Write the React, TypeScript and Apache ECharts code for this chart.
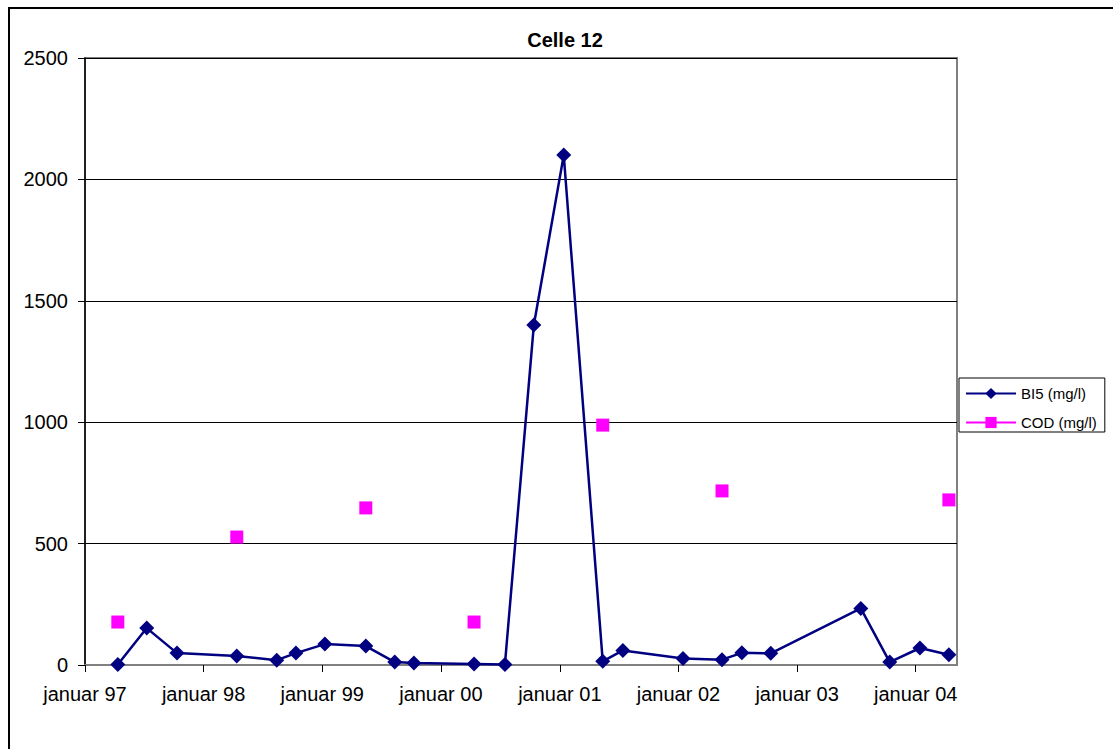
import React, { useEffect, useRef } from "react";
import * as echarts from "echarts";

const dates = [
  "1997-04-12", "1997-07-10", "1997-10-11", "1998-04-13", "1998-08-14", "1998-10-12",
  "1999-01-09", "1999-05-15", "1999-08-12", "1999-10-10", "2000-04-12", "2000-07-16",
  "2000-10-13", "2001-01-13", "2001-05-13", "2001-07-14", "2002-01-15", "2002-05-15",
  "2002-07-15", "2002-10-12", "2003-07-16", "2003-10-13", "2004-01-14", "2004-04-12",
];
const bi5 = [2, 152, 49, 37, 20, 49, 86, 78, 12, 8, 4, 2, 1400, 2100, 15, 60, 27, 22, 50, 48, 233, 12, 70, 42];
const cod = [177, null, null, 527, null, null, null, 647, null, null, 177, null, null, null, 988, null, null, 717, null, null, null, null, null, 680];
const seriesNames = ["BI5 (mg/l)", "COD (mg/l)"];
const titleText = "Celle 12";
const monthWord = "januar";

export default function App() {
  const ref = useRef<HTMLDivElement>(null);
  useEffect(() => {
    if (!ref.current) return;
    const chart = echarts.init(ref.current, null, { renderer: "svg" });
    const font = "Liberation Sans, Arial, sans-serif";
    chart.setOption({
      animation: false,
      backgroundColor: "#ffffff",
      title: {
        text: titleText,
        left: 565,
        top: 30,
        textAlign: "center",
        padding: 0,
        textStyle: { fontFamily: font, fontSize: 20, fontWeight: "bold", color: "#000" },
      },
      graphic: [
        {
          type: "polyline",
          shape: { points: [[9, 760], [9, 8], [1120, 8]] },
          style: { stroke: "#000", lineWidth: 2, fill: "none" },
          silent: true,
        },
      ],
      legend: {
        orient: "vertical",
        left: 959,
        top: 378,
        padding: [8, 8, 2, 6],
        itemWidth: 50,
        itemHeight: 14,
        itemGap: 14,
        borderColor: "#000",
        borderWidth: 1,
        backgroundColor: "#fff",
        textStyle: { fontFamily: font, fontSize: 15, color: "#000" },
        data: seriesNames,
      },
      grid: {
        left: 85,
        right: 156,
        top: 58,
        bottom: 84,
        show: true,
        borderColor: "#808080",
        borderWidth: 2,
        backgroundColor: "#fff",
      },
      xAxis: {
        type: "time",
        min: "1997-01-01",
        max: "2004-05-07",
        splitNumber: 7,
        axisLine: { show: true, lineStyle: { color: "#808080", width: 2 } },
        axisTick: { show: true, length: 7, lineStyle: { color: "#000", width: 1 } },
        minorTick: { show: false },
        splitLine: { show: false },
        axisLabel: {
          margin: 19,
          fontFamily: font,
          fontSize: 20,
          color: "#000",
          hideOverlap: false,
          formatter: (val: number) => {
            const d = new Date(val);
            return monthWord + " " + String(d.getFullYear()).slice(2);
          },
        },
      },
      yAxis: {
        type: "value",
        min: 0,
        max: 2500,
        interval: 500,
        axisLine: { show: true, lineStyle: { color: "#000", width: 1.5 } },
        axisTick: { show: true, length: 7, lineStyle: { color: "#000", width: 1 } },
        splitLine: { show: true, lineStyle: { color: "#000", width: 1 } },
        axisLabel: {
          margin: 17,
          fontFamily: font,
          fontSize: 20,
          color: "#000",
          formatter: (v: number) => String(v),
        },
      },
      series: [
        {
          name: seriesNames[0],
          type: "line",
          data: dates.map((d, i) => [d, bi5[i]]),
          symbol: "diamond",
          symbolSize: 15,
          itemStyle: { color: "#000080" },
          lineStyle: { color: "#000080", width: 2.5 },
          z: 3,
        },
        {
          name: seriesNames[1],
          type: "line",
          data: dates.map((d, i) => [d, cod[i]]),
          connectNulls: false,
          symbol: "rect",
          symbolSize: 13,
          itemStyle: { color: "#ff00ff" },
          lineStyle: { color: "#ff00ff", width: 2.5 },
          z: 2,
        },
      ],
    });
    return () => chart.dispose();
  }, []);
  return (
    <div
      ref={ref}
      style={{ position: "fixed", left: 0, top: 0, width: 1113, height: 749 }}
    />
  );
}
